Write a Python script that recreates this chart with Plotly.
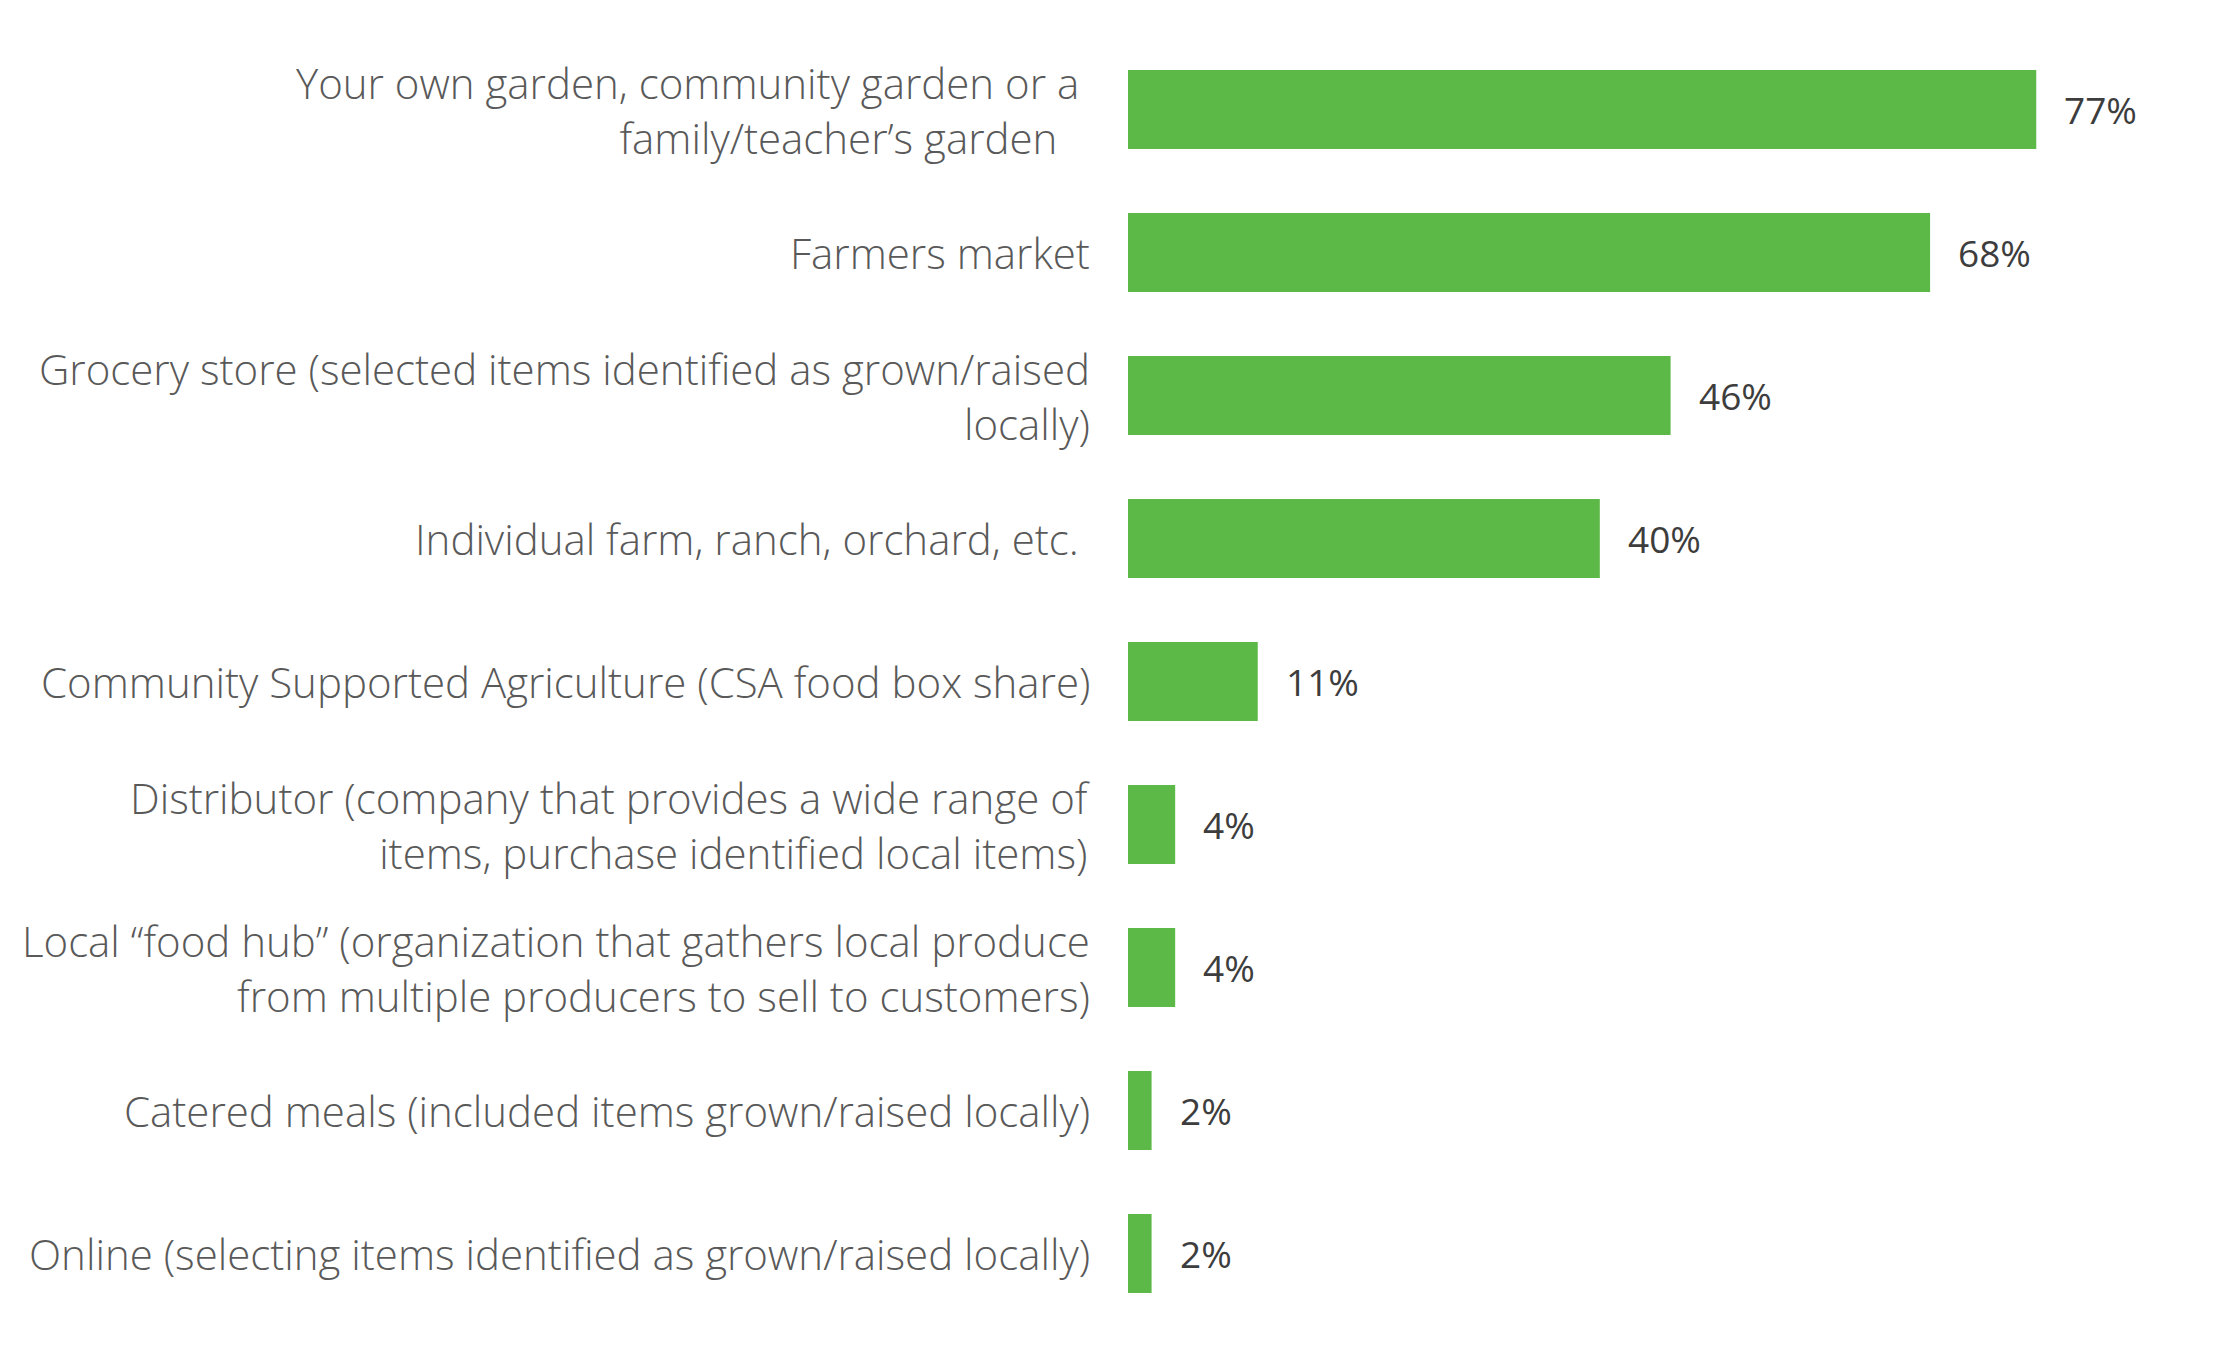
import plotly.graph_objects as go

categories = [
    "Your own garden, community garden or a\u00a0<br>family/teacher’s garden\u00a0\u00a0\u00a0",
    "Farmers market",
    "Grocery store (selected items identified as grown/raised<br>locally)",
    "Individual farm, ranch, orchard, etc.\u00a0",
    "Community Supported Agriculture (CSA food box share)",
    "Distributor (company that provides a wide range of<br>items, purchase identified local items)",
    "Local “food hub” (organization that gathers local produce<br>from multiple producers to sell to customers)",
    "Catered meals (included items grown/raised locally)",
    "Online (selecting items identified as grown/raised locally)",
]
values = [77, 68, 46, 40, 11, 4, 4, 2, 2]
value_labels = ["77%", "68%", "46%", "40%", "11%", "4%", "4%", "2%", "2%"]

GREEN = "#5cb947"
LABEL_COLOR = "#595959"
VALUE_COLOR = "#3d3d3d"
FONT = "Open Sans"
LABEL_SIZE = 42

ypos = list(range(len(categories)))

fig = go.Figure()
fig.add_trace(go.Bar(
    x=values, y=ypos, orientation="h",
    marker=dict(color=GREEN, line=dict(width=0)),
    hoverinfo="skip",
))

annotations = []
for i, (cat, v, vl) in enumerate(zip(categories, values, value_labels)):
    annotations.append(dict(
        x=0, xref="paper", y=i, yref="y", text=cat, showarrow=False,
        xanchor="right", align="right", xshift=-36,
        font=dict(family=FONT, size=LABEL_SIZE, color=LABEL_COLOR, weight=300),
    ))
    annotations.append(dict(
        x=v, xref="x", y=i, yref="y", text=vl, showarrow=False,
        xanchor="left", xshift=26,
        font=dict(family=FONT, size=37, color=VALUE_COLOR),
    ))

fig.update_layout(
    width=2231, height=1360,
    margin=dict(l=1128, r=65, t=38, b=35),
    paper_bgcolor="white", plot_bgcolor="white",
    showlegend=False, bargap=0.448,
    xaxis=dict(range=[0, 88], visible=False, fixedrange=True),
    yaxis=dict(range=[8.5, -0.5], visible=False, fixedrange=True),
    annotations=annotations,
)

fig.write_html("out.html")
